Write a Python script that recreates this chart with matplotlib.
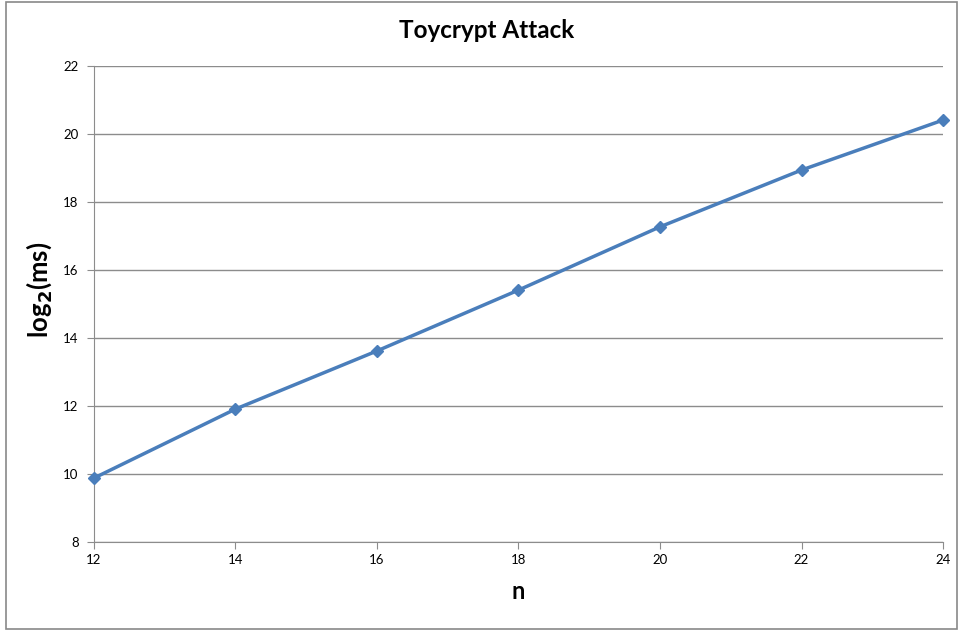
import matplotlib
matplotlib.use("Agg")
import matplotlib.pyplot as plt
from matplotlib.patches import Rectangle

plt.rcParams['font.family'] = ['Lato', 'DejaVu Sans']

n = [12, 14, 16, 18, 20, 22, 24]
log_ms = [9.88, 11.91, 13.62, 15.41, 17.27, 18.94, 20.41]
yticks = [8, 10, 12, 14, 16, 18, 20, 22]
xticks = [12, 14, 16, 18, 20, 22, 24]

fig = plt.figure(figsize=(9.6, 6.3), dpi=100)
fig.patches.append(Rectangle((6/960, 1/630), 951/960, 627/630, transform=fig.transFigure,
                             fill=False, edgecolor='#898989', linewidth=1.2))
ax = fig.add_axes([0.0979, 0.1397, 0.8844, 0.7555])

ax.plot(n, log_ms, color='#4a7ebb', linewidth=2.5, marker='D', markersize=6,
        markerfacecolor='#4a7ebb', markeredgecolor='#4a7ebb', zorder=3, clip_on=False)

ax.set_xlim(12, 24)
ax.set_ylim(8, 22)
ax.set_xticks(xticks)
ax.set_yticks(yticks)
ax.grid(axis='y', color='#8c8c8c', linewidth=1)
ax.set_axisbelow(True)
for s in ['top', 'right']:
    ax.spines[s].set_visible(False)
for s in ['left', 'bottom']:
    ax.spines[s].set_color('#8c8c8c')
ax.tick_params(axis='both', colors='#8c8c8c', labelcolor='black', labelsize=9.5, length=5, direction='out')
ax.tick_params(axis='y', pad=6)

fig.text(487/960, 1 - 30/630, 'Toycrypt Attack', fontsize=17.5, fontweight='bold',
         ha='center', va='center')
ax.set_xlabel('n', fontsize=17, fontweight='bold', labelpad=10)
ax.set_ylabel(r'log$_\mathbf{2}$(ms)', fontsize=18.5, fontweight='bold', labelpad=4)
ax.yaxis.set_label_coords(-0.047, 0.53)

fig.savefig('out.png', dpi=100)
